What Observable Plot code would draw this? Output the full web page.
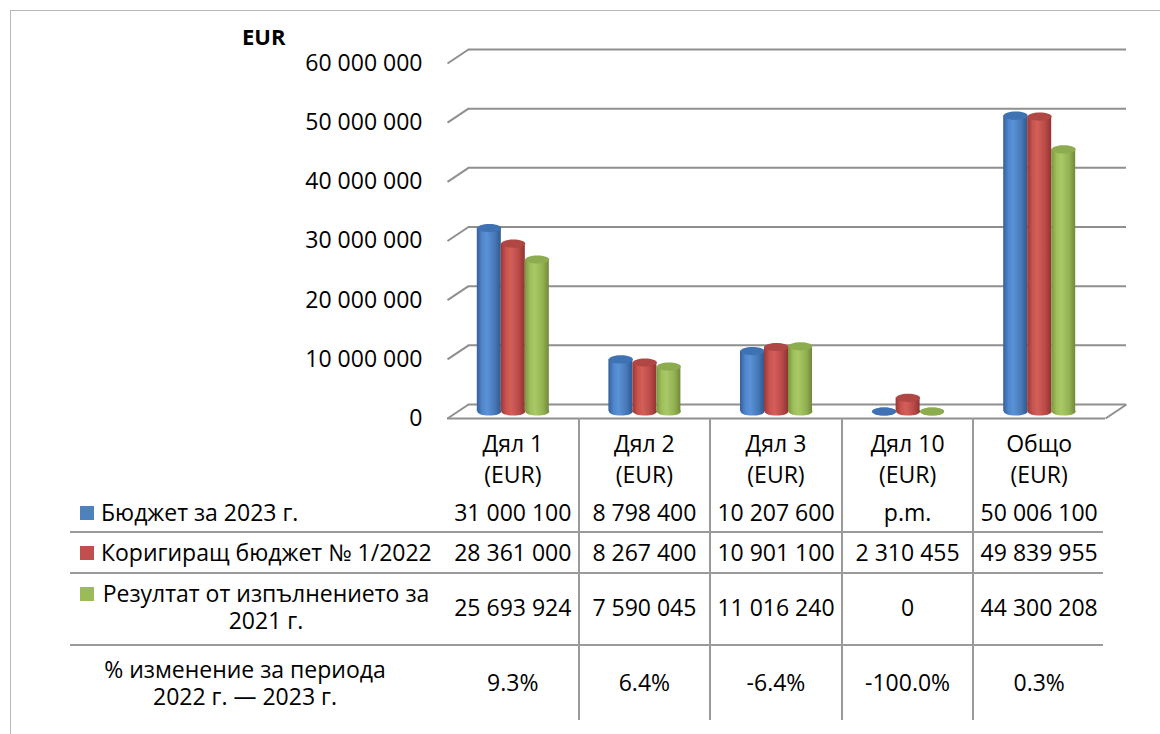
<!DOCTYPE html>
<html><head><meta charset="utf-8">
<script src="https://cdn.jsdelivr.net/npm/d3@7"></script>
<script src="https://cdn.jsdelivr.net/npm/@observablehq/plot@0.6"></script>
<style>
body{margin:0;background:#fff;font-family:"Open Sans",sans-serif;}
#wrap{position:relative;width:1160px;height:734px;overflow:hidden;background:#fff;}
#frame{position:absolute;left:10px;top:10px;width:1200px;height:800px;border:1px solid #b8b8b8;}
#chart{position:absolute;left:0;top:0;}
#unit{position:absolute;left:242px;top:21px;font-weight:bold;font-size:22px;line-height:30px;}
.cell{position:absolute;display:flex;align-items:center;justify-content:center;text-align:center;font-size:23px;line-height:31px;color:#000;white-space:nowrap;}
.hl{position:absolute;height:0;border-top:2px solid #9a9a9a;}
.vl{position:absolute;width:0;border-left:2px solid #9a9a9a;}
.key{display:inline-block;width:14px;height:14px;flex:none;margin-right:7px;}
</style></head><body>
<div id="wrap"><div id="frame"></div><div id="chart"></div><div id="unit">EUR</div></div>
<script>
// ---- data ----
const categories = ["Дял 1", "Дял 2", "Дял 3", "Дял 10", "Общо"];
const unitLabel = "(EUR)";
const seriesNames = ["Бюджет за 2023 г.", "Коригиращ бюджет № 1/2022", "Резултат от изпълнението за 2021 г."];
const budget2023 = [31000100, 8798400, 10207600, null, 50006100];
const corrective2022 = [28361000, 8267400, 10901100, 2310455, 49839955];
const result2021 = [25693924, 7590045, 11016240, 0, 44300208];
const pctLabel = "% изменение за периода 2022 г. — 2023 г.";
const pctChange = [9.3, 6.4, -6.4, -100.0, 0.3];
const yTicks = [0, 10000000, 20000000, 30000000, 40000000, 50000000, 60000000];

// ---- styling ----
const seriesColors = ["#4F81BD", "#C0504D", "#9BBB59"];
const gradStops = [
  [["0%","#34609a"],["22%","#4f86cc"],["42%","#5a92d8"],["75%","#4878b6"],["100%","#30598f"]],
  [["0%","#9a3836"],["22%","#c8534f"],["42%","#d45f5a"],["75%","#b94a47"],["100%","#8f3432"]],
  [["0%","#7a963e"],["22%","#9ebf5c"],["42%","#a9c966"],["75%","#92b252"],["100%","#71893a"]]
];
const topColors = ["#3f72b3", "#b14744", "#8dab4f"];
const gridColor = "#8f8f8f";
const fontFam = '"Open Sans", sans-serif';

const W = 1160, H = 430, mL = 447, mR = 55, mT = 63, mB = 12;
const plotW = W - mL - mR, plotH = H - mT - mB;
const nCat = categories.length;
const yMax = 60000000;
const unitPx = plotW / nCat;
const DX = 21 / unitPx, DY = 14 * yMax / plotH;
const barW = 24 / unitPx;

const fmt = d => d3.format(",")(d).replace(/,/g, " ");

const seriesValues = [budget2023, corrective2022, result2021];
const bars = seriesValues.flatMap((vals, s) =>
  vals.map((v, i) => ({s, i, value: v ?? 0, cx: i + (s - 1) * barW})));

const ellipse = {
  draw(ctx, size) {
    const rx = Math.sqrt(size / Math.PI), ry = rx * 0.34, k = 0.5523;
    ctx.moveTo(rx, 0);
    ctx.bezierCurveTo(rx, ry * k, rx * k, ry, 0, ry);
    ctx.bezierCurveTo(-rx * k, ry, -rx, ry * k, -rx, 0);
    ctx.bezierCurveTo(-rx, -ry * k, -rx * k, -ry, 0, -ry);
    ctx.bezierCurveTo(rx * k, -ry, rx, -ry * k, rx, 0);
    ctx.closePath();
  }
};

const defsMark = () => {
  const defs = d3.create("svg:defs");
  gradStops.forEach((stops, s) => {
    const lg = defs.append("linearGradient").attr("id", "g" + s)
      .attr("x1", 0).attr("x2", 1).attr("y1", 0).attr("y2", 0);
    stops.forEach(([o, c]) => lg.append("stop").attr("offset", o).attr("stop-color", c));
  });
  return defs.node();
};

const barMarks = [];
[0, 1, 2].forEach(s => {
  const data = bars.filter(d => d.s === s);
  barMarks.push(
    Plot.dot(data, {x: "cx", y: () => 0, r: 12, symbol: ellipse, fill: `url(#g${s})`, stroke: "none", dy: -7}),
    Plot.rect(data.filter(d => d.value > 0), {x1: d => d.cx - barW / 2, x2: d => d.cx + barW / 2, y1: () => 0, y2: "value", fill: `url(#g${s})`, dy: -7}),
    Plot.dot(data, {x: "cx", y: "value", r: 12, symbol: ellipse, fill: topColors[s], stroke: "none", dy: -7})
  );
});

const chart = Plot.plot({
  width: W, height: H,
  marginLeft: mL, marginRight: mR, marginTop: mT, marginBottom: mB,
  style: {fontFamily: fontFam, background: "transparent", color: "#000", overflow: "visible"},
  x: {type: "linear", domain: [-0.5, nCat - 0.5], axis: null},
  y: {domain: [0, yMax]},
  marks: [
    defsMark,
    Plot.ruleY(yTicks, {x1: -0.5, x2: nCat - 0.5, dx: 21, dy: -14, stroke: gridColor, strokeWidth: 2}),
    Plot.link(yTicks, {x1: -0.5, y1: d => d, x2: -0.5 + DX, y2: d => d + DY, stroke: gridColor, strokeWidth: 2}),
    Plot.link([0], {x1: nCat - 0.5, y1: d => d, x2: nCat - 0.5 + DX, y2: d => d + DY, stroke: gridColor, strokeWidth: 2}),
    Plot.ruleY([0], {x1: -0.5, x2: nCat - 0.5, stroke: gridColor, strokeWidth: 2}),
    Plot.axisY({ticks: yTicks, tickSize: 0, tickPadding: 25, tickFormat: fmt, fontSize: 23, label: null, fill: "#000"}),
    ...barMarks
  ]
});
document.getElementById("chart").appendChild(chart);

// ---- data table, aligned with the chart's x scale ----
const xs = chart.scale("x");
const wrap = document.getElementById("wrap");
function add(cls, css, html) {
  const el = document.createElement("div");
  el.className = cls;
  Object.assign(el.style, css);
  if (html != null) el.innerHTML = html;
  wrap.appendChild(el);
  return el;
}
const rowY = [418, 493, 532, 573, 645, 720];
const tableLeft = 70;
const tableRight = xs.apply(nCat - 0.5) - 2;

categories.forEach((c, i) => {
  const x0 = xs.apply(i - 0.5), x1 = xs.apply(i + 0.5);
  const col = {left: x0 + "px", width: (x1 - x0) + "px"};
  add("cell", {...col, top: (rowY[0] + 3) + "px", height: (rowY[1] - rowY[0]) + "px"}, c + "<br>" + unitLabel);
  seriesValues.forEach((vals, s) => {
    const v = vals[i];
    add("cell", {...col, top: (rowY[s + 1] - (s === 2 ? 2 : 0)) + "px", height: (rowY[s + 2] - rowY[s + 1]) + "px"}, v == null ? "p.m." : fmt(v));
  });
  add("cell", {...col, top: rowY[4] + "px", height: (rowY[5] - rowY[4]) + "px"}, pctChange[i].toFixed(1) + "%");
  if (i > 0) add("vl", {left: (x0 - 1) + "px", top: rowY[0] + "px", height: (rowY[5] - rowY[0]) + "px"});
});
[2, 3, 4].forEach(r => add("hl", {left: tableLeft + "px", width: (tableRight - tableLeft) + "px", top: (rowY[r] - 1) + "px"}));

// row headers
seriesNames.forEach((name, s) => {
  const el = add("cell", {left: (tableLeft + 10) + "px", width: (mL - tableLeft - 14) + "px", top: rowY[s + 1] + "px",
    height: (rowY[s + 2] - rowY[s + 1]) + "px", justifyContent: "flex-start", alignItems: s === 2 ? "flex-start" : "center",
    paddingTop: s === 2 ? "7px" : "0", boxSizing: "border-box", lineHeight: s === 2 ? "27px" : "31px"});
  const key = document.createElement("span");
  key.className = "key"; key.style.background = seriesColors[s];
  if (s === 2) key.style.marginTop = "7px";
  el.appendChild(key);
  const t = document.createElement("span");
  t.textContent = name;
  t.style.whiteSpace = s === 2 ? "normal" : "nowrap";
  t.style.textAlign = "center";
  if (s === 2) t.style.width = "330px";
  el.appendChild(t);
});
const pc = add("cell", {left: tableLeft + "px", width: "350px", top: rowY[4] + "px", height: (rowY[5] - rowY[4]) + "px", lineHeight: "27px"});
const pt = document.createElement("span");
pt.textContent = pctLabel; pt.style.whiteSpace = "normal"; pt.style.width = "300px"; pt.style.textAlign = "center";
pc.appendChild(pt);
</script>
</body></html>
